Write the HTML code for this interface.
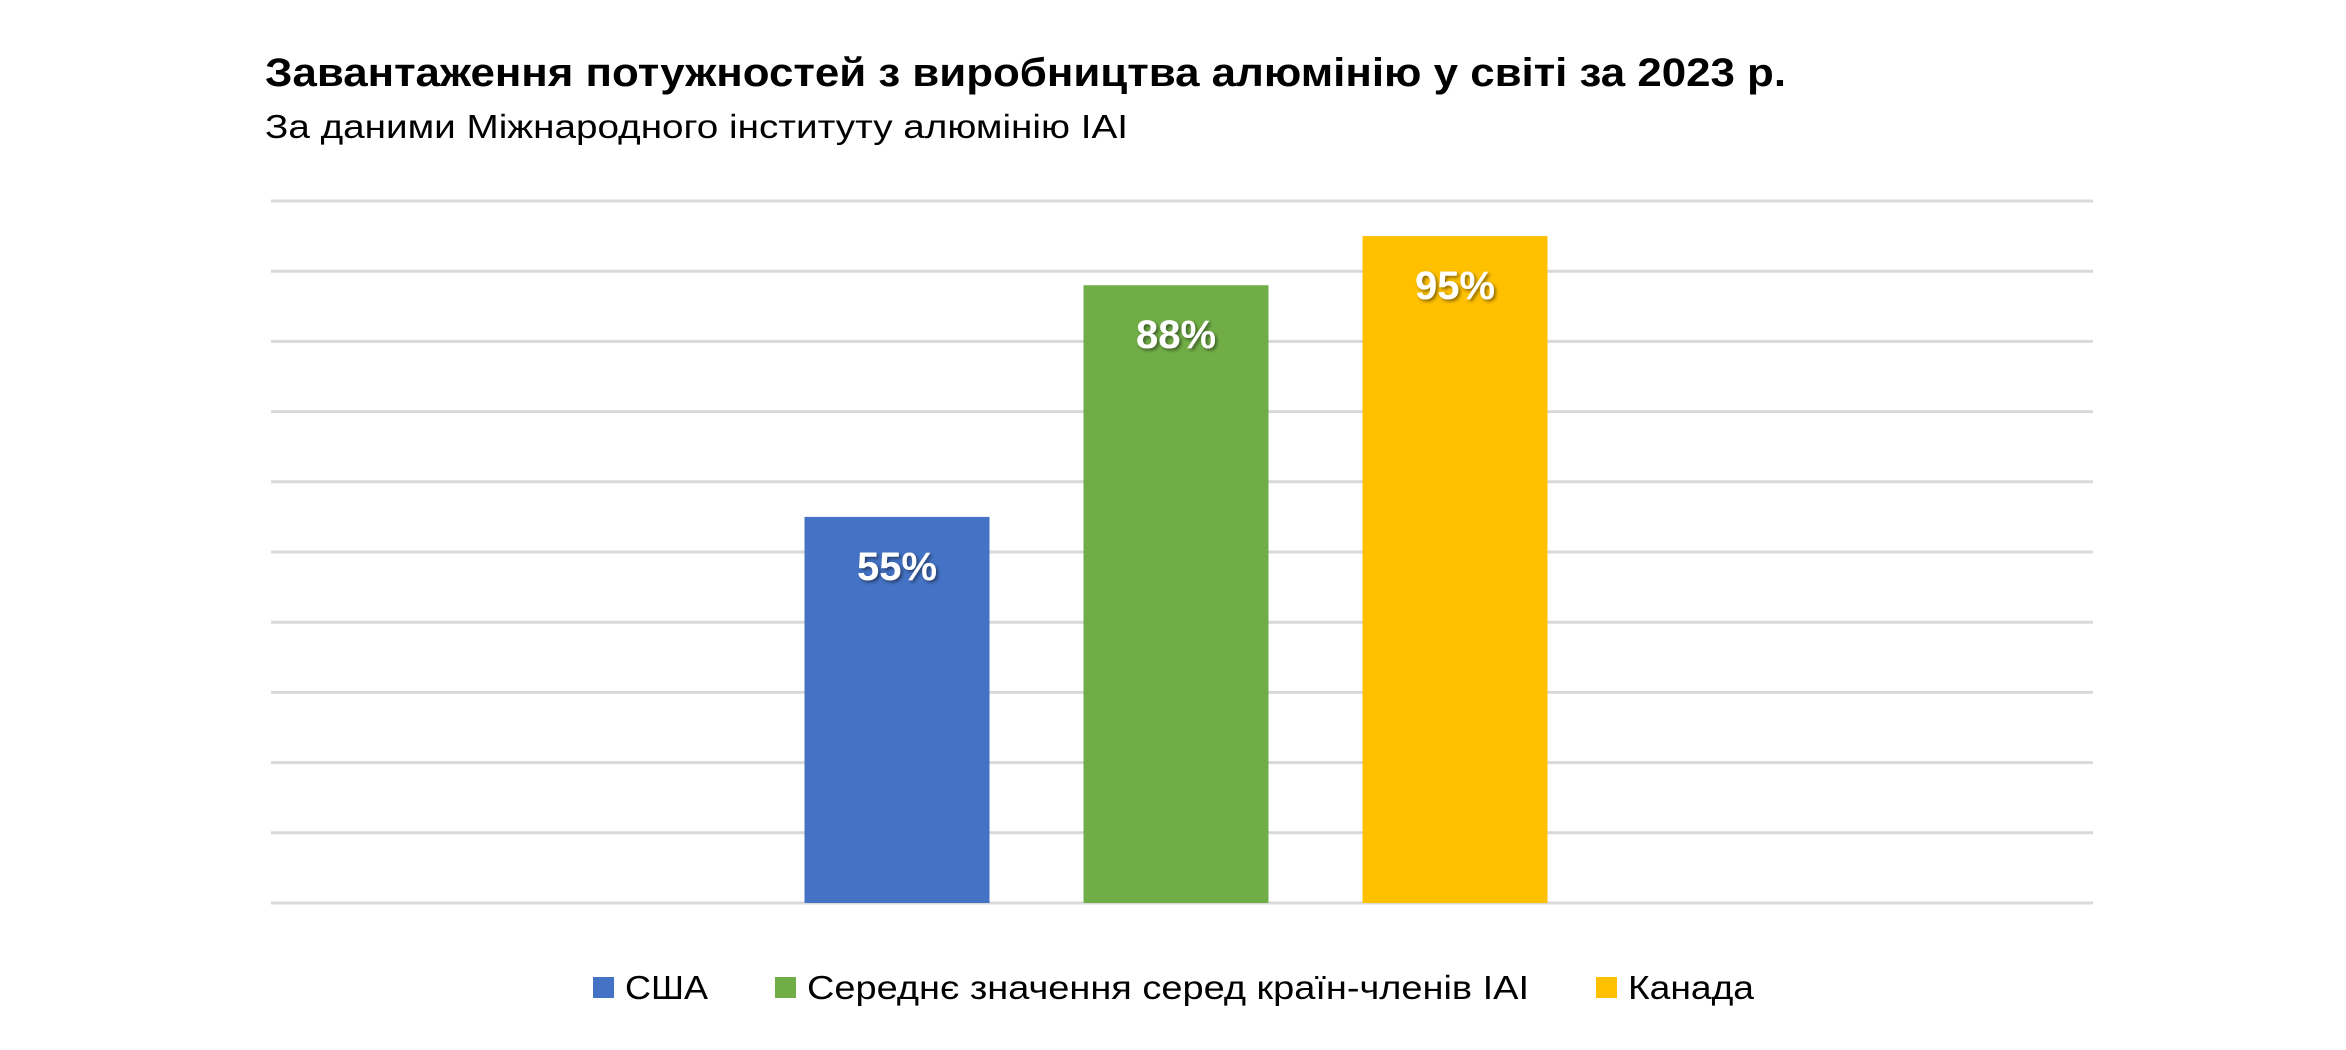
<!DOCTYPE html>
<html><head><meta charset="utf-8"><style>
html,body{margin:0;padding:0;background:#fff;}
svg{display:block;font-family:"Liberation Sans","DejaVu Sans",sans-serif;}
</style></head><body>
<svg id="chart" width="2346" height="1050" viewBox="0 0 2346 1050" xmlns="http://www.w3.org/2000/svg">
<defs><filter id="sh" x="-20%" y="-20%" width="140%" height="140%"><feDropShadow dx="2" dy="2" stdDeviation="1.5" flood-color="#000" flood-opacity="0.45"/></filter></defs>
<text x="265" y="86" font-size="40" font-weight="bold" fill="#000" textLength="1521" lengthAdjust="spacingAndGlyphs">Завантаження потужностей з виробництва алюмінію у світі за 2023 р.</text>
<text x="265" y="138" font-size="33" fill="#000" textLength="863" lengthAdjust="spacingAndGlyphs">За даними Міжнародного інституту алюмінію IAI</text>
<g id="grid"></g>
<g id="bars"></g>
<g id="legend"></g>
</svg>
<script>
const seriesNames = ["США", "Середнє значення серед країн-членів IAI", "Канада"];
const seriesValues = [55, 88, 95];
const seriesLabels = ["55%", "88%", "95%"];
const gridTicks = [0,10,20,30,40,50,60,70,80,90,100];
const colors = ["#4472C4", "#70AD47", "#FFC000"];

const NS = "http://www.w3.org/2000/svg";
const x0 = 271, x1 = 2093, yTop = 201, yBot = 903;
const yScale = v => yBot - (v - 0) / 100 * (yBot - yTop);
const center = 1176, step = 279, bw = 185;
const xScale = i => center + (i - (seriesValues.length - 1) / 2) * step;

const grid = document.getElementById('grid');
gridTicks.forEach(t => {
  const l = document.createElementNS(NS, 'line');
  
  
  l.setAttribute('x1', x0); l.setAttribute('x2', x1);
  l.setAttribute('y1', yScale(t)); l.setAttribute('y2', yScale(t));
  l.setAttribute('stroke', '#d9d9d9'); l.setAttribute('stroke-width', '3');
  grid.appendChild(l);
});

const bars = document.getElementById('bars');
seriesValues.forEach((v, i) => {
  const cx = xScale(i);
  const r = document.createElementNS(NS, 'rect');
  
  
  r.setAttribute('x', cx - bw / 2); r.setAttribute('width', bw);
  r.setAttribute('y', yScale(v)); r.setAttribute('height', yBot - yScale(v));
  r.setAttribute('fill', colors[i]);
  bars.appendChild(r);
  const t = document.createElementNS(NS, 't' + 'ext');
  
  
  t.setAttribute('x', cx); t.setAttribute('y', yScale(v) + 63);
  t.setAttribute('text-anchor', 'middle');
  t.setAttribute('font-size', '40'); t.setAttribute('font-weight', 'bold');
  t.setAttribute('fill', '#fff'); t.setAttribute('filter', 'url(#sh)');
  t.setAttribute('textLength', '80'); t.setAttribute('lengthAdjust', 'spacingAndGlyphs');
  t.textContent = seriesLabels[i];
  bars.appendChild(t);
});

const legend = document.getElementById('legend');
const legX = [593, 775, 1596];
const legW = [83, 722, 126];
seriesNames.forEach((n, i) => {
  const g = document.createElementNS(NS, 'g');
  
  
  const s = document.createElementNS(NS, 'rect');
  
  
  s.setAttribute('x', legX[i]); s.setAttribute('y', 977);
  s.setAttribute('width', 21); s.setAttribute('height', 21);
  s.setAttribute('fill', colors[i]);
  g.appendChild(s);
  const t = document.createElementNS(NS, 't' + 'ext');
  
  
  t.setAttribute('x', legX[i] + 32); t.setAttribute('y', 999);
  t.setAttribute('font-size', '33'); t.setAttribute('fill', '#000');
  t.setAttribute('textLength', legW[i]); t.setAttribute('lengthAdjust', 'spacingAndGlyphs');
  t.textContent = n;
  g.appendChild(t);
  legend.appendChild(g);
});
</script>
</body></html>
